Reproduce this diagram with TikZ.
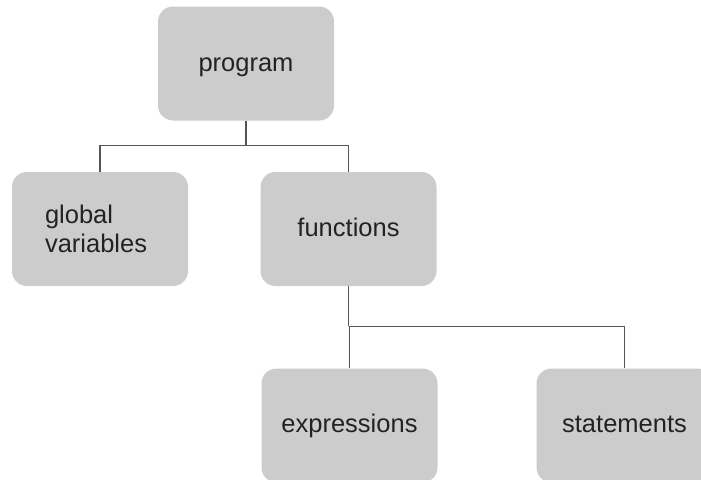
\documentclass[tikz,border=0pt]{standalone}
\usepackage{fontspec}
\setmainfont{Liberation Sans}
\usetikzlibrary{calc}
\definecolor{boxgray}{HTML}{CCCCCC}
\definecolor{linegray}{HTML}{555555}
\definecolor{textdark}{HTML}{222222}
\begin{document}
\begin{tikzpicture}[x=1pt,y=-1pt,
  box/.style={fill=boxgray, draw=none, rounded corners=15pt, minimum width=176pt, minimum height=114pt,
    inner sep=0pt, text=textdark, font=\fontsize{25.5}{29}\selectfont},
  oneline/.style={text height=18pt, text depth=4pt},
  link/.style={draw=linegray, line width=1.3pt}]
\useasboundingbox (0,0) rectangle (701,479);
\clip (0,0) rectangle (701,479);
\node[box, oneline, text height=17pt, text depth=1pt] (program) at (246,63.5) {program};
\node[box, align=left, text width=110pt, inner xsep=33pt] (global) at (100,229) {global\\variables};
\node[box, oneline] (functions) at (348.5,229) {functions};
\node[box, oneline, text height=17pt, text depth=3pt] (expressions) at (349.5,425.5) {expressions};
\node[box, oneline, text height=17pt, text depth=3pt] (statements) at (624.5,425.5) {statements};
\coordinate (j1) at ($(program.south)+(0,25)$);
\draw[link] (program.south) -- (j1);
\draw[link] (j1) -| (global.north);
\draw[link] (j1) -| (functions.north);
\coordinate (j2) at ($(functions.south)+(0,40)$);
\draw[link] (functions.south) -- (j2);
\draw[link] (j2) -| (expressions.north);
\draw[link] (j2) -| (statements.north);
\end{tikzpicture}
\end{document}
